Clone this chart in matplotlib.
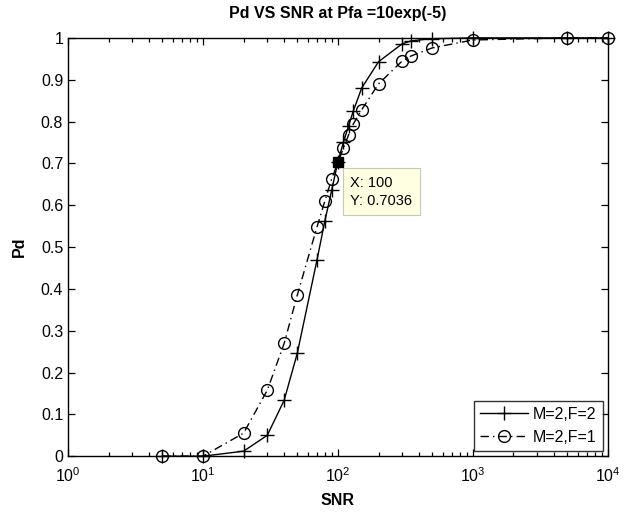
import numpy as np
import matplotlib
matplotlib.use("Agg")
import matplotlib.pyplot as plt

plt.rcParams['font.family'] = ['Liberation Sans', 'DejaVu Sans']

# SNR sample points and detection probabilities
snr_f2 = [5, 10, 20, 30, 40, 50, 70, 80, 90, 100, 110, 120, 130, 150, 200, 300, 350, 500, 1000, 5000, 10000]
pd_f2 = [0, 0, 0.012, 0.05, 0.134, 0.246, 0.469, 0.562, 0.636, 0.7036, 0.751, 0.79, 0.825, 0.88, 0.943,
         0.986, 0.993, 0.998, 1.0, 1.0, 1.0]

snr_f1 = [5, 10, 20, 30, 40, 50, 70, 80, 90, 110, 120, 130, 150, 200, 300, 350, 500, 1000, 5000, 10000]
pd_f1 = [0, 0, 0.055, 0.158, 0.27, 0.385, 0.548, 0.61, 0.663, 0.737, 0.768, 0.794, 0.828, 0.89,
         0.945, 0.957, 0.976, 0.995, 1.0, 1.0]

tip_x = 100
tip_y = 0.7036

fig = plt.figure(figsize=(6.24, 5.12), dpi=100)
ax = fig.add_axes([0.109, 0.109, 0.865, 0.817])

ax.semilogx(snr_f2, pd_f2, color='k', linestyle='-', linewidth=1.0,
            marker='+', markersize=10, markeredgewidth=1.0, label='M=2,F=2', clip_on=False)
ax.semilogx(snr_f1, pd_f1, color='k', linestyle=(0, (6, 3, 1, 3)), linewidth=1.0,
            marker='o', markersize=8.5, markerfacecolor='none', markeredgewidth=1.0,
            label='M=2,F=1', clip_on=False)

# data tip
ax.plot([tip_x], [tip_y], marker='s', color='k', markersize=7, zorder=5)
ax.annotate('X: %d\nY: %.4f' % (tip_x, tip_y), xy=(tip_x, tip_y), xytext=(9, -10),
            textcoords='offset points', ha='left', va='top', fontsize=10.5,
            linespacing=1.35,
            bbox=dict(boxstyle='square,pad=0.5', fc='#ffffe1', ec='#c8c8b4', lw=0.8))

ax.set_xlim(1, 1e4)
ax.set_ylim(0, 1)
ax.set_yticks(np.arange(0, 1.01, 0.1))
ax.set_yticklabels(['0', '0.1', '0.2', '0.3', '0.4', '0.5', '0.6', '0.7', '0.8', '0.9', '1'])
ax.tick_params(which='both', direction='in', top=True, right=True, labelsize=11.5, width=0.9)
ax.tick_params(axis='x', pad=7)
ax.tick_params(which='major', length=5)
ax.tick_params(which='minor', length=3)
for s in ax.spines.values():
    s.set_linewidth(1.0)

ax.set_title('Pd VS SNR at Pfa =10exp(-5)', fontsize=11.5, fontweight='bold', pad=14)
ax.set_xlabel('SNR', fontsize=11.5, fontweight='bold', labelpad=6)
ax.set_ylabel('Pd', fontsize=11.5, fontweight='bold', labelpad=10)

leg = ax.legend(loc='lower right', fontsize=11.5, fancybox=False, edgecolor='k',
                handlelength=3.0, handletextpad=0.3, borderaxespad=0.3)
leg.get_frame().set_linewidth(1.0)

fig.savefig('out.png', dpi=100, facecolor='white')
